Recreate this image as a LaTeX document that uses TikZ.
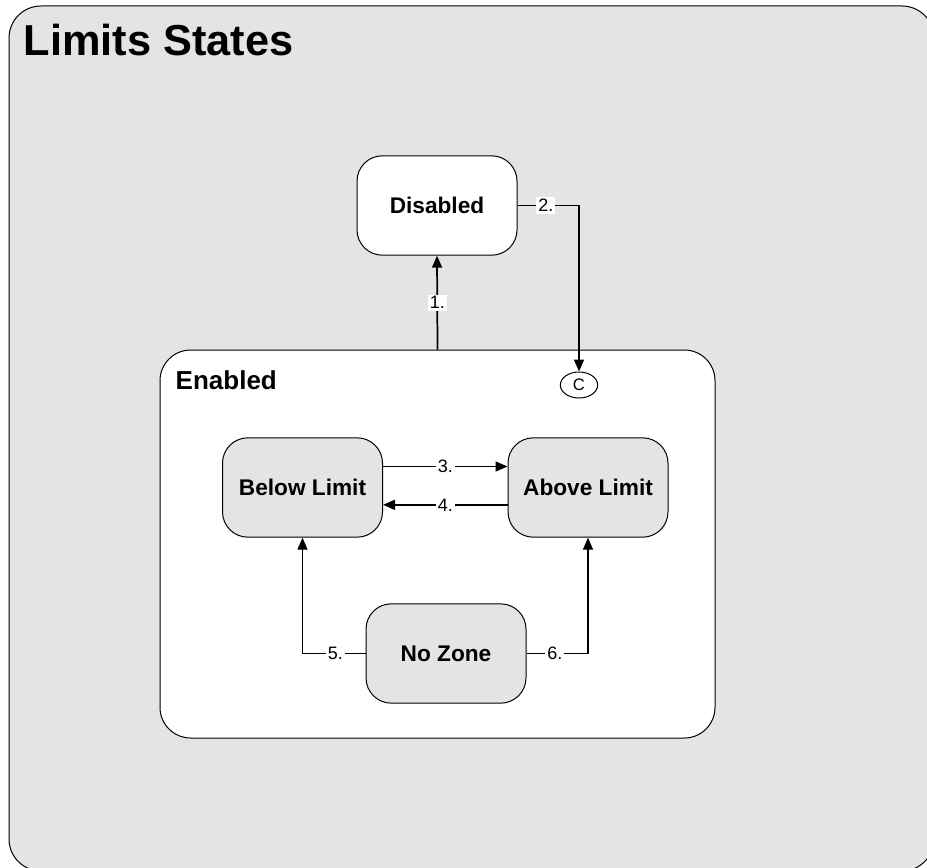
\documentclass[tikz,border=0pt]{standalone}
\usepackage{fontspec}
\setmainfont{Liberation Sans}
\usetikzlibrary{arrows.meta,shapes.geometric}

\definecolor{panelgrey}{RGB}{228,228,228}

\tikzset{
  statebox/.style={draw, line width=0.75pt, rounded corners=19pt, fill=panelgrey,
    minimum width=120pt, minimum height=74.5pt, font=\bfseries\fontsize{17}{20}\selectfont},
  trans/.style={line width=1.3pt, -{Triangle[length=9pt,width=7.5pt]}},
  tlabel/.style={fill=white, inner sep=1.5pt, font=\fontsize{13.5}{15}\selectfont}
}

\begin{document}
\begin{tikzpicture}[x=0.75pt,y=0.75pt,yscale=-1,xscale=1]
\useasboundingbox (0,0) rectangle (927,867);
\clip (0,0) rectangle (927,867);

%Outer Frame
\draw [line width=0.75pt, fill=panelgrey, rounded corners=24pt] (9,6) rectangle (934,871);
% Text Node
\node (title) [anchor=west, font=\bfseries\fontsize{32.5}{38}\selectfont] at (19,40) {Limits States};

%Rounded Rect: Enabled
\draw [line width=0.75pt, fill=white, rounded corners=23pt] (160,350) rectangle (715,738);
\node (en) [minimum width=416.25pt, minimum height=291pt, inner sep=0pt] at (437.5,544) {};
% Text Node
\node (enlbl) [anchor=west, font=\bfseries\fontsize{19.5}{22}\selectfont] at (171,380) {Enabled};

%States
\node (dis) [statebox, fill=white] at (437,205.5) {Disabled};
\node (bl) [statebox] at (302.5,487.5) {Below Limit};
\node (al) [statebox] at (588,487.5) {Above Limit};
\node (nz) [statebox] at (446,653.5) {No Zone};

%Connector circle
\node (cc) [draw, ellipse, line width=0.75pt, minimum width=28pt, minimum height=19.5pt,
  inner sep=0pt, font=\fontsize{12.5}{14}\selectfont] at (579,385) {C};

%Transitions
\draw [trans] (en.north) -- node [tlabel] {1.} (dis.south);
\draw [trans] (dis.east) -| node [tlabel, pos=0.23] {2.} (cc.north);
\draw [trans] ([yshift=-15.75pt]bl.east) -- node [tlabel] {3.} ([yshift=-15.75pt]al.west);
\draw [trans] ([yshift=13pt]al.west) -- node [tlabel] {4.} ([yshift=13pt]bl.east);
\draw [trans, line width=0.9pt] (nz.west) -| node [tlabel, pos=0.24] {5.} (bl.south);
\draw [trans, line width=0.9pt] (nz.east) -| node [tlabel, pos=0.23] {6.} (al.south);

\end{tikzpicture}
\end{document}
